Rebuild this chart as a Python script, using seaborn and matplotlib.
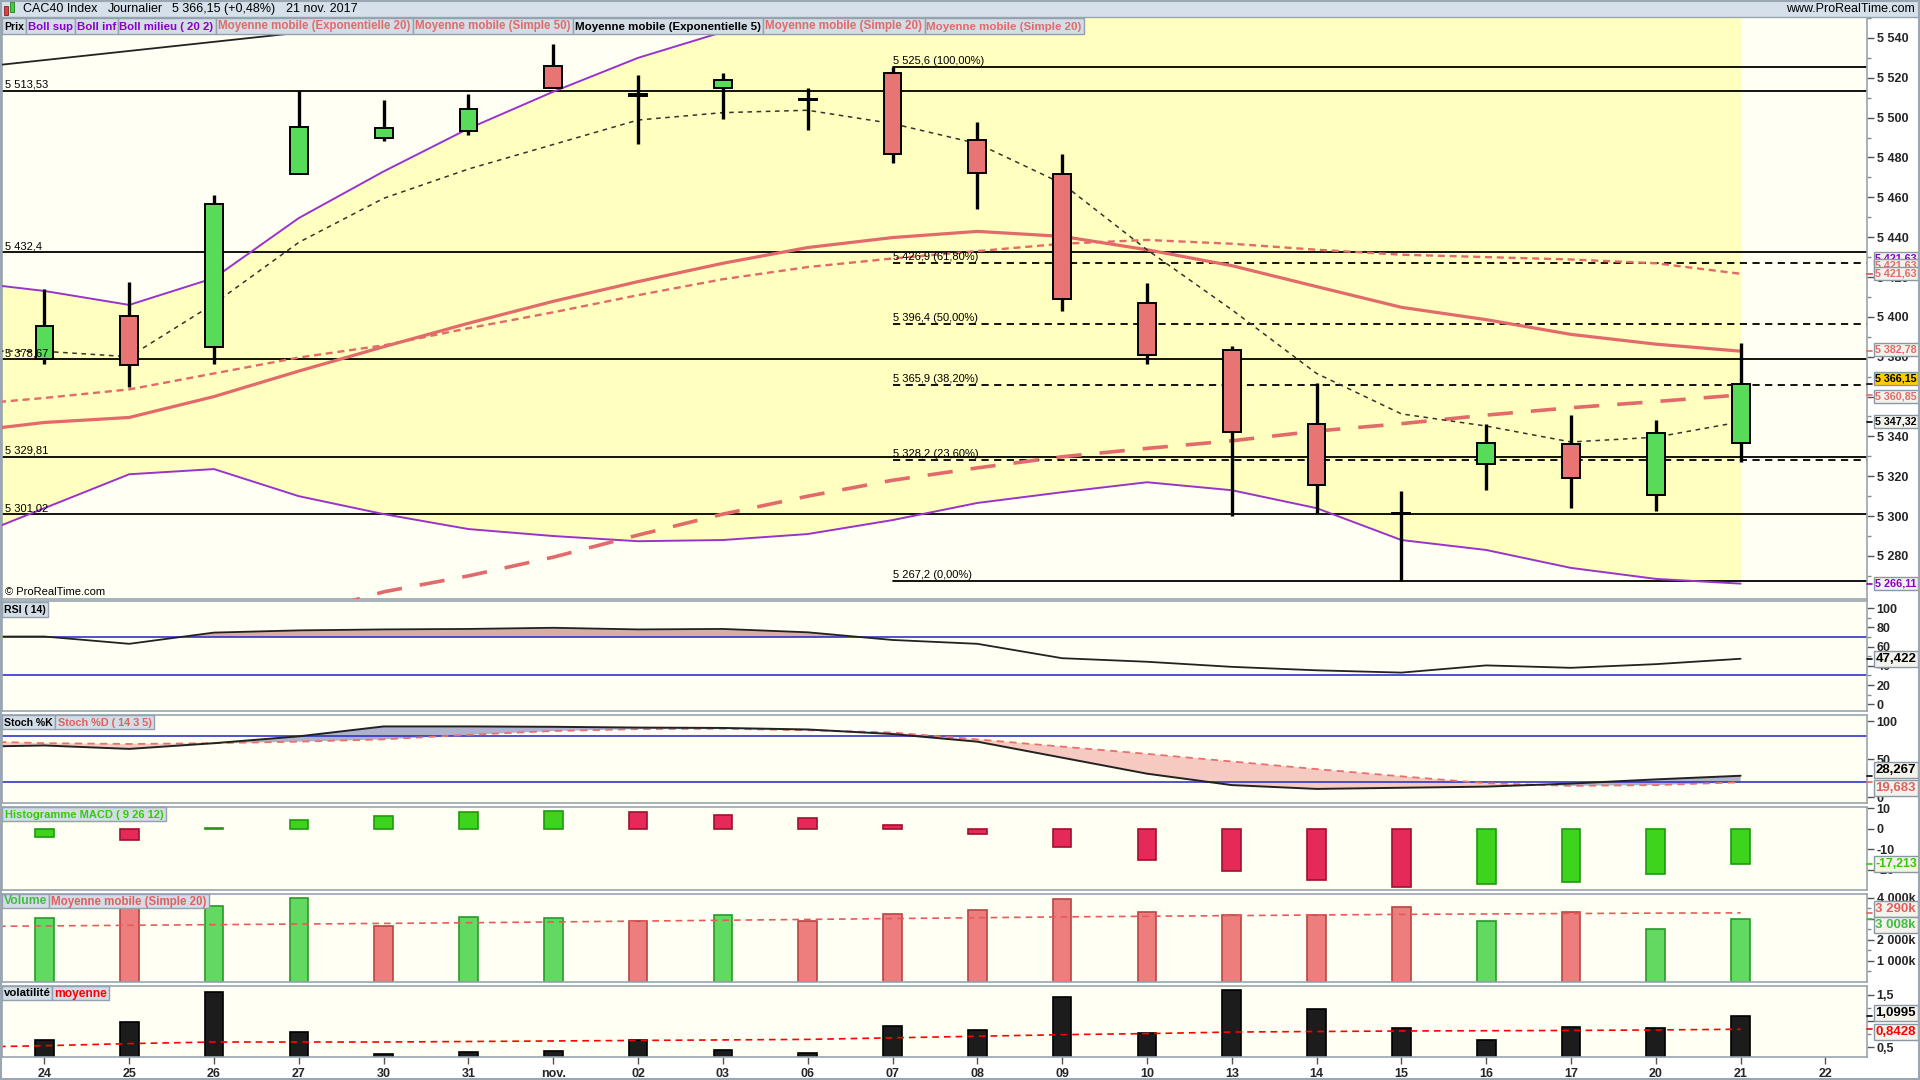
import numpy as np
import pandas as pd
import matplotlib as mpl
import matplotlib.pyplot as plt
import matplotlib.transforms as mtransforms
from matplotlib.patches import Rectangle
from matplotlib import font_manager
import seaborn as sns

# ---------------- data ----------------
days = ['24', '25', '26', '27', '30', '31', 'nov.', '02', '03', '06', '07',
        '08', '09', '10', '13', '14', '15', '16', '17', '20', '21', '22']

# daily candles (24 oct -> 21 nov)
opens = [5379.0, 5400.5, 5385.0, 5471.8, 5489.6, 5493.3, 5525.9, 5511.0, 5514.8, 5509.5, 5522.2,
         5489.0, 5471.8, 5407.2, 5383.3, 5346.4, 5301.5, 5326.0, 5336.0, 5310.7, 5336.6]
highs = [5414.0, 5417.7, 5461.3, 5513.6, 5508.7, 5511.7, 5537.0, 5521.6, 5522.2, 5514.8, 5525.6,
         5497.6, 5481.6, 5417.0, 5385.5, 5366.7, 5312.6, 5346.4, 5350.7, 5348.2, 5387.0]
lows = [5376.5, 5364.8, 5376.5, 5471.5, 5488.4, 5491.4, 5514.8, 5487.0, 5499.4, 5493.9, 5477.3,
        5454.0, 5403.0, 5376.5, 5300.3, 5301.5, 5267.2, 5313.2, 5304.0, 5302.8, 5327.3]
closes = [5395.6, 5376.0, 5456.4, 5495.5, 5494.8, 5504.4, 5514.8, 5511.7, 5519.1, 5508.7, 5481.6,
          5472.4, 5409.1, 5380.8, 5342.0, 5315.7, 5301.0, 5336.6, 5319.3, 5341.5, 5366.15]

# indicator series, first value = 23 oct (left edge of chart)
boll_sup = [5418, 5413, 5406, 5419.5, 5449.6, 5473, 5494.5, 5513, 5530, 5543, 5559, 5561,
            5559, 5561, 5560, 5560, 5563, 5574, 5577, 5584, 5585, 5577]
boll_inf = [5287, 5304, 5321, 5323.6, 5310, 5301, 5293.5, 5290, 5287.4, 5288, 5291, 5298,
            5306.6, 5312, 5317, 5313, 5304, 5288, 5283, 5274, 5268.5, 5266.11]
ema20 = [5342, 5347, 5349.5, 5360, 5372.8, 5385, 5396.8, 5407.8, 5417.7, 5426.9, 5434.8, 5439.8,
         5442.9, 5440.4, 5433.7, 5425.7, 5415.2, 5404.8, 5398.6, 5391.2, 5386.3, 5382.78]
sma20 = [5355.6, 5359.3, 5363.6, 5371.6, 5379.6, 5385.7, 5394.3, 5402.3, 5410.9, 5418.9, 5425,
         5429.3, 5433, 5436.7, 5438.6, 5436.7, 5433.7, 5431.2, 5430, 5428.8, 5426.9, 5421.63]
sma50 = [5212, 5219, 5226, 5235, 5250, 5262, 5270, 5279.4, 5290.5, 5301, 5310, 5318,
         5324.2, 5329.8, 5334, 5337.8, 5342.7, 5346.4, 5350.7, 5354.4, 5357.5, 5360.85]
ema5 = [5383, 5382.7, 5380, 5406.6, 5437.4, 5459.5, 5474.2, 5486.5, 5498.8, 5502.5, 5503.7, 5497,
        5487, 5466.9, 5433.7, 5403.6, 5371.6, 5351.3, 5345.2, 5337.2, 5339.6, 5347.32]
trend_x = [-1, 4]
trend_y = [5524.3, 5547.2]

support_levels = [5513.53, 5432.4, 5378.67, 5329.81, 5301.02]
support_labels = ['5 513,53', '5 432,4', '5 378,67', '5 329,81', '5 301,02']
fib_levels = [5525.6, 5426.9, 5396.4, 5365.9, 5328.2, 5267.2]
fib_labels = ['5 525,6 (100,00%)', '5 426,9 (61,80%)', '5 396,4 (50,00%)',
              '5 365,9 (38,20%)', '5 328,2 (23,60%)', '5 267,2 (0,00%)']
fib_start = 10

rsi = [70.5, 70.6, 63, 74.7, 77, 78, 78.5, 79.7, 78, 78.5, 75, 67, 63, 48, 44.3, 39,
       35.4, 33, 40.5, 38, 41.8, 47.422]
stoch_k = [66, 68, 63.5, 71, 80, 93, 93, 92.5, 91.5, 91, 89, 83, 73, 52, 31, 16, 11,
           12.5, 14, 18, 23.5, 28.267]
stoch_d = [74, 71, 70, 71, 73, 76, 82, 87, 89.5, 90, 88, 85, 76, 66.5, 57, 47, 37,
           27.5, 18.5, 15, 16, 19.683]
macd_hist = [-4.2, -5.2, 0.3, 4.1, 6.5, 8.2, 8.8, 8.2, 7.0, 5.2, 1.7, -2.5, -9.1, -15.0,
             -20.4, -25.2, -28.2, -27.0, -25.8, -22.2, -17.213]
volume_m = [3.03, 4.45, 3.62, 4.00, 2.67, 3.10, 3.03, 2.91, 3.20, 2.91, 3.26, 3.44, 3.96,
            3.32, 3.20, 3.20, 3.55, 2.91, 3.32, 2.50, 3.008]
volume_ma = [2.64, 2.67, 2.70, 2.73, 2.76, 2.79, 2.82, 2.86, 2.90, 2.94, 2.98, 3.02, 3.06,
             3.10, 3.13, 3.16, 3.19, 3.22, 3.24, 3.26, 3.28, 3.29]
volat = [0.643, 0.98, 1.556, 0.796, 0.37, 0.41, 0.43, 0.64, 0.455, 0.39, 0.91, 0.82, 1.45,
         0.77, 1.59, 1.23, 0.86, 0.64, 0.89, 0.86, 1.0995]
volat_ma = [0.50, 0.53, 0.57, 0.60, 0.60, 0.60, 0.61, 0.62, 0.63, 0.64, 0.65, 0.68, 0.71,
            0.74, 0.76, 0.79, 0.80, 0.81, 0.815, 0.82, 0.83, 0.8428]

header = ['CAC40 Index', 'Journalier', '5 366,15 (+0,48%)', '21 nov. 2017']

idx = np.arange(len(closes))
idx_ext = np.arange(-1, len(closes))

# ---------------- styling ----------------
sns.set_theme(style='white')
plt.rcParams['font.family'] = ['Liberation Sans', 'DejaVu Sans']
available = {f.name for f in font_manager.fontManager.ttflist}
narrow = 'Liberation Sans Narrow' if 'Liberation Sans Narrow' in available else 'Liberation Sans'

W, H = 1920, 1080
BG = '#FFFFF4'
GRID = '#98A4AE'
RED_MA = '#E26A6A'
PURPLE = '#9933CC'
XMIN, XMAX = -0.5, 21.49

fig = plt.figure(figsize=(19.2, 10.8), dpi=100, facecolor='white')
boxes = []


def panel(top, bottom):
    a = fig.add_axes([2 / W, 1 - bottom / H, (1867 - 2) / W, (bottom - top) / H])
    a.set_facecolor(BG)
    a.set_xlim(XMIN, XMAX)
    a.set_xticks([])
    for s in a.spines.values():
        s.set_color(GRID)
        s.set_linewidth(1.2)
    a.yaxis.tick_right()
    return a


def right_axis(a, lo, hi, ticks, labels, minor=None):
    a.set_ylim(lo, hi)
    a.set_yticks(ticks, labels, fontsize=9, fontweight='bold')
    if minor is not None:
        a.set_yticks(minor, minor=True)
    a.tick_params(axis='y', which='major', length=5, width=1, color='#555555', pad=2,
                  right=True, left=False)
    a.tick_params(axis='y', which='minor', length=3, width=1, color='#8A8A8A',
                  right=True, left=False)


def fr(v, d):
    s = f'{v:,.{d}f}'
    return s.replace(',', ' ').replace('.', ',')


def value_box(a, val, text, color, fc='#F3F3EB', dy=0):
    base = mtransforms.blended_transform_factory(a.transAxes, a.transData)
    a.plot([1.0, 1.0028], [val, val], transform=base, color=color, lw=1.2, clip_on=False, zorder=29)
    tr = mtransforms.offset_copy(base, fig=fig, x=0, y=dy, units='dots')
    t = a.text(1.0045, val, text, transform=tr, ha='left', va='center', fontsize=9.5,
               fontweight='bold', family=narrow, color=color, clip_on=False, zorder=30,
               bbox=dict(boxstyle='square,pad=0.14', fc=fc, ec='#8A98A4', lw=1))
    boxes.append(t)


ax = panel(17, 599)
ax_rsi = panel(601, 711)
ax_sto = panel(715, 803)
ax_macd = panel(807, 890)
ax_vol = panel(894, 982)
ax_vlt = panel(986, 1057)

# ---------------- main price panel ----------------
ax.fill_between(idx_ext, boll_inf, boll_sup, color='#FFFFC0', lw=0, zorder=1)
for lv, lb in zip(support_levels, support_labels):
    ax.axhline(lv, color='black', lw=1.3, zorder=2)
    ax.text(0.0015, lv, lb, transform=mtransforms.offset_copy(
        mtransforms.blended_transform_factory(ax.transAxes, ax.transData), fig=fig, y=1, units='dots'),
        ha='left', va='bottom', fontsize=8, color='black', zorder=6)
frac = (fib_start - XMIN) / (XMAX - XMIN)
for k, (lv, lb) in enumerate(zip(fib_levels, fib_labels)):
    solid = k in (0, len(fib_levels) - 1)
    ax.axhline(lv, xmin=frac, xmax=1, color='black', lw=1.3,
               linestyle='-' if solid else (0, (4, 3)), zorder=2)
    ax.text(fib_start, lv, lb, transform=mtransforms.offset_copy(ax.transData, fig=fig, y=1, units='dots'),
            ha='left', va='bottom', fontsize=8, color='black', zorder=6)

sns.lineplot(x=trend_x, y=trend_y, ax=ax, color='#222222', lw=1.3, legend=False, zorder=3)
sns.lineplot(x=idx_ext, y=boll_sup, ax=ax, color=PURPLE, lw=1.4, legend=False, zorder=3)
sns.lineplot(x=idx_ext, y=boll_inf, ax=ax, color=PURPLE, lw=1.4, legend=False, zorder=3)
sns.lineplot(x=idx_ext, y=sma50, ax=ax, color=RED_MA, lw=2.6, linestyle=(0, (7, 5)), legend=False, zorder=3)
sns.lineplot(x=idx_ext, y=sma20, ax=ax, color=RED_MA, lw=1.7, linestyle=(0, (3, 2)), legend=False, zorder=3)
sns.lineplot(x=idx_ext, y=ema20, ax=ax, color=RED_MA, lw=2.3, legend=False, zorder=3)
sns.lineplot(x=idx_ext, y=ema5, ax=ax, color='#333333', lw=1.1, linestyle=(0, (3, 3)), legend=False, zorder=3)

o = np.array(opens)
c = np.array(closes)
ax.vlines(idx, lows, highs, color='black', lw=2.4, zorder=4)
body_col = ['black' if abs(ci - oi) < 1 else ('#58DB58' if ci > oi else '#E97474') for oi, ci in zip(o, c)]
ax.bar(idx, np.maximum(np.abs(c - o), 0.15), bottom=np.minimum(o, c), width=0.21,
       color=body_col, edgecolor='black', lw=1.4, zorder=5)
ax.text(0.0015, 0.004, '© ProRealTime.com', transform=ax.transAxes, ha='left', va='bottom',
        fontsize=8, color='black', zorder=6)

main_ticks = list(range(5280, 5541, 20))
right_axis(ax, 5258.4, 5550.5, main_ticks, [fr(t, 0) for t in main_ticks],
           minor=list(range(5270, 5551, 10)))

value_box(ax, sma20[-1], fr(sma20[-1], 2), '#8800CC', dy=15)
value_box(ax, sma20[-1], fr(sma20[-1], 2), RED_MA, dy=8)
value_box(ax, sma20[-1], fr(sma20[-1], 2), RED_MA)
value_box(ax, ema20[-1], fr(ema20[-1], 2), RED_MA, dy=2)
value_box(ax, closes[-1], fr(closes[-1], 2), 'black', fc='#FFCC00', dy=6)
value_box(ax, sma50[-1], fr(sma50[-1], 2), RED_MA, dy=-2)
value_box(ax, ema5[-1], fr(ema5[-1], 2), 'black')
value_box(ax, boll_inf[-1], fr(boll_inf[-1], 2), '#8800CC')

# ---------------- RSI ----------------
rsi_a = np.array(rsi)
ax_rsi.fill_between(idx_ext, rsi_a, 70, where=rsi_a >= 70, interpolate=True, color='#D5AEA6', lw=0)
ax_rsi.axhline(70, color='#3333CC', lw=1.2)
ax_rsi.axhline(30, color='#3333CC', lw=1.2)
sns.lineplot(x=idx_ext, y=rsi, ax=ax_rsi, color='#222222', lw=1.3, legend=False)
right_axis(ax_rsi, -7, 107.6, [0, 20, 40, 60, 80, 100], ['0', '20', '40', '60', '80', '100'],
           minor=[10, 30, 50, 70, 90])
value_box(ax_rsi, rsi[-1], fr(rsi[-1], 3), 'black')

# ---------------- Stochastic ----------------
k_a = np.array(stoch_k)
d_a = np.array(stoch_d)
ax_sto.fill_between(idx_ext, k_a, d_a, where=k_a >= d_a, interpolate=True, color='#B0B2CC', lw=0)
ax_sto.fill_between(idx_ext, k_a, d_a, where=k_a < d_a, interpolate=True, color='#F6C9C1', lw=0)
ax_sto.axhline(80, color='#3333CC', lw=1.2)
ax_sto.axhline(20, color='#3333CC', lw=1.2)
sns.lineplot(x=idx_ext, y=stoch_d, ax=ax_sto, color='#E87070', lw=1.3, linestyle=(0, (4, 3)), legend=False)
sns.lineplot(x=idx_ext, y=stoch_k, ax=ax_sto, color='#222222', lw=1.4, legend=False)
right_axis(ax_sto, -7.5, 108, [0, 50, 100], ['0', '50', '100'])
value_box(ax_sto, stoch_k[-1], fr(stoch_k[-1], 3), 'black', dy=6)
value_box(ax_sto, stoch_d[-1], fr(stoch_d[-1], 3), '#E06060', dy=-6)

# ---------------- MACD histogram ----------------
mh = np.array(macd_hist)
rising = np.concatenate([[True], np.diff(mh) >= 0])
ax_macd.bar(idx, mh, width=0.22, color=np.where(rising, '#3ED41E', '#E52A5A'),
            edgecolor=np.where(rising, '#1F9A10', '#A0102E'), lw=1.2)
right_axis(ax_macd, -29.9, 10.7, [-20, -10, 0, 10], ['-20', '-10', '0', '10'])
value_box(ax_macd, macd_hist[-1], fr(macd_hist[-1], 3), '#33CC00')

# ---------------- Volume ----------------
up = np.concatenate([[True], np.diff(c) > 0])
ax_vol.bar(idx, volume_m, width=0.22, color=np.where(up, '#62DA62', '#EE7E7E'),
           edgecolor=np.where(up, '#2A9A2A', '#B84444'), lw=1.2)
sns.lineplot(x=idx_ext, y=volume_ma, ax=ax_vol, color='#E85A5A', lw=1.2, linestyle=(0, (4, 3)), legend=False)
right_axis(ax_vol, 0, 4.19, [1, 2, 3, 4], ['1 000k', '2 000k', '', '4 000k'],
           minor=[0.5, 1.5, 2.5, 3.5])
value_box(ax_vol, volume_ma[-1], fr(volume_ma[-1] * 1000, 0) + 'k', '#E06060', dy=4)
value_box(ax_vol, volume_m[-1], fr(volume_m[-1] * 1000, 0) + 'k', '#44BB44', dy=-6)

# ---------------- Volatility ----------------
ax_vlt.bar(idx, volat, width=0.22, color='#1C1C1C', edgecolor='black', lw=1.2)
sns.lineplot(x=idx_ext, y=volat_ma, ax=ax_vlt, color='#FF0000', lw=1.2, linestyle=(0, (4, 3)), legend=False)
right_axis(ax_vlt, 0.315, 1.666, [0.5, 1.0, 1.5], ['0,5', '', '1,5'], minor=[0.75, 1.25])
value_box(ax_vlt, volat[-1], fr(volat[-1], 4), 'black', dy=3)
value_box(ax_vlt, volat_ma[-1], fr(volat_ma[-1], 4), '#FF0000', dy=-3)

ax_vlt.set_xticks(range(len(days)), days, fontsize=9, fontweight='bold')
ax_vlt.tick_params(axis='x', length=5, width=1, color='#555555', pad=3, bottom=True)

for a in (ax, ax_rsi, ax_sto, ax_macd, ax_vol, ax_vlt):
    a.set_xlabel('')
    a.set_ylabel('')
    a.set_xlim(XMIN, XMAX)

# ---------------- overlay: header, legend tags, frame ----------------
ov = fig.add_axes([0, 0, 1, 1], zorder=10)
ov.set_xlim(0, W)
ov.set_ylim(H, 0)
ov.axis('off')

ov.add_patch(Rectangle((0, 0), W, 17, fc='#D6E0EA', ec='none'))
ov.plot([0, W], [17, 17], color=GRID, lw=1)
ov.add_patch(Rectangle((4, 6), 4, 9, fc='#E04040', ec='#802020', lw=0.6))
ov.add_patch(Rectangle((10, 2), 4, 10, fc='#40D040', ec='#208020', lw=0.6))
head_texts = [ov.text(0, 9, txt, ha='left', va='center', fontsize=9, family=narrow, color='black')
              for txt in header]
ov.text(1915, 9, 'www.ProRealTime.com', ha='right', va='center', fontsize=9, color='black')

tags = []


def tag(x0, x1, y0, y1, text, color):
    ov.add_patch(Rectangle((x0, y0), x1 - x0, y1 - y0, fc='#D3DDE6', ec='#93A1AE', lw=1))
    t = ov.text((x0 + x1) / 2, (y0 + y1) / 2 + 0.5, text, ha='center', va='center',
                color=color, fontsize=10.5, fontweight='bold', family=narrow)
    tags.append((t, x1 - x0))


main_tags = [('Prix', 'black'), ('Boll sup', '#8800CC'), ('Boll inf', '#8800CC'),
             ('Boll milieu ( 20 2)', '#8800CC'), ('Moyenne mobile (Exponentielle 20)', RED_MA),
             ('Moyenne mobile (Simple 50)', RED_MA), ('Moyenne mobile (Exponentielle 5)', 'black'),
             ('Moyenne mobile (Simple 20)', RED_MA), ('Moyenne mobile (Simple 20)', RED_MA)]
edges = [2, 25.7, 74.7, 117.6, 215.5, 412.7, 573, 763, 924.5, 1083.7]
for (txt, col), x0, x1 in zip(main_tags, edges[:-1], edges[1:]):
    tag(x0, x1, 18, 34, txt, col)

tag(2, 48, 602, 617, 'RSI ( 14)', 'black')
tag(2, 55, 715, 729, 'Stoch %K', 'black')
tag(55, 154, 715, 729, 'Stoch %D ( 14 3 5)', '#E06060')
tag(2, 166, 807, 821, 'Histogramme MACD ( 9 26 12)', '#33CC00')
tag(2, 49, 894, 908, 'Volume', '#44BB44')
tag(49, 209, 894, 908, 'Moyenne mobile (Simple 20)', '#E06060')
tag(2, 52, 986, 1000, 'volatilité', 'black')
tag(52, 109, 986, 1000, 'moyenne', '#FF0000')

ov.add_patch(Rectangle((0.5, 0.5), W - 2, H - 2, fill=False, ec='#9AA6B2', lw=1.5))

# fit texts into their boxes
renderer = fig.canvas.get_renderer()
for t, bw in tags:
    w = t.get_window_extent(renderer).width
    if w > bw - 4:
        t.set_fontsize(t.get_fontsize() * (bw - 4) / w)
for t in boxes:
    w = t.get_window_extent(renderer).width
    if w > 42:
        t.set_fontsize(t.get_fontsize() * 42 / w)
xpos = 23
for t in head_texts:
    t.set_x(xpos)
    xpos += t.get_window_extent(renderer).width + 10

fig.savefig('out.png', dpi=100, facecolor='white')
